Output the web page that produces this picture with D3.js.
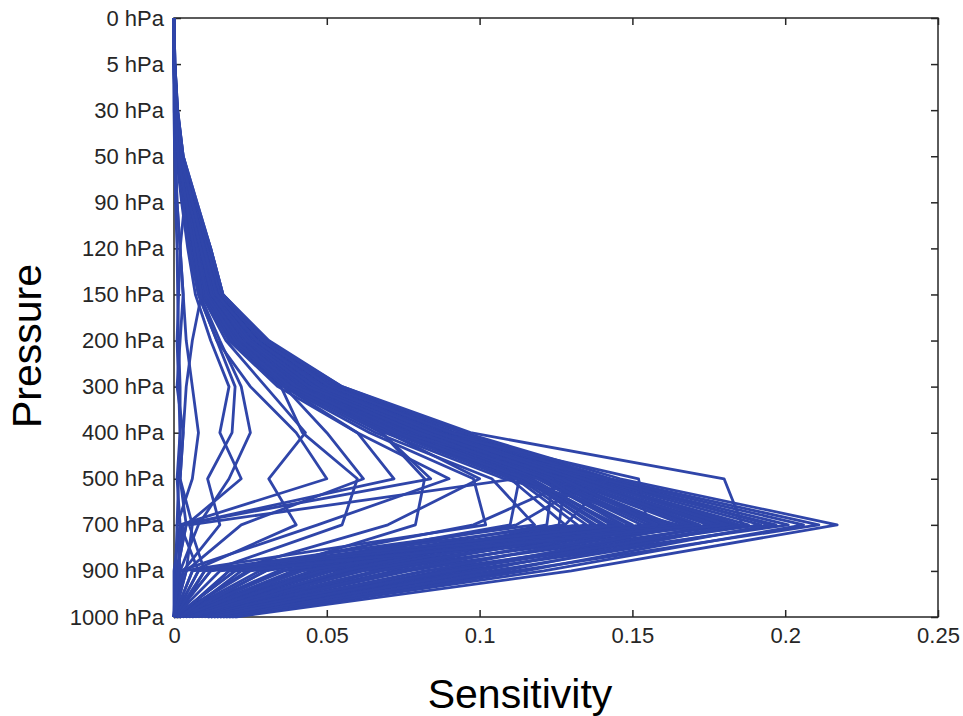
<!DOCTYPE html>
<html>
<head>
<meta charset="utf-8">
<script src="https://cdn.jsdelivr.net/npm/d3@7.9.0/dist/d3.min.js"></script>
<style>
  html, body { margin: 0; padding: 0; background: #fff; }
  svg { display: block; }
  text { font-family: "Liberation Sans", Arial, sans-serif; }
</style>
</head>
<body>
<svg id="chart" width="963" height="716"></svg>
<script>
// pressure levels, top to bottom
const levels = ["0 hPa", "5 hPa", "30 hPa", "50 hPa", "90 hPa", "120 hPa", "150 hPa",
  "200 hPa", "300 hPa", "400 hPa", "500 hPa", "700 hPa", "900 hPa", "1000 hPa"];

const xTicks = [0, 0.05, 0.1, 0.15, 0.2, 0.25];

// sensitivity profiles, one value per level (0 hPa ... 1000 hPa)
// main bundle peaking at 700 hPa
const peakProfiles = [
  [0, .0003, .0012, .003, .0075, .012, .016, .031, .055, .095, .146, .217, .130, .020],
  [0, .0003, .0011, .003, .007, .012, .016, .030, .054, .094, .143, .211, .112, .016],
  [0, .0003, .0011, .0028, .007, .0115, .0155, .030, .053, .092, .141, .206, .121, .018],
  [0, .0002, .0010, .0027, .0068, .011, .015, .029, .052, .091, .139, .201, .094, .011],
  [0, .0002, .0010, .0026, .0066, .011, .015, .029, .051, .090, .137, .197, .104, .013],
  [0, .0002, .0010, .0025, .0064, .0105, .0148, .028, .050, .089, .136, .192, .082, .008],
  [0, .0002, .0009, .0025, .0062, .0102, .0145, .028, .050, .088, .134, .188, .097, .014],
  [0, .0002, .0009, .0024, .006, .010, .014, .027, .049, .087, .133, .183, .072, .005],
  [0, .0002, .0009, .0023, .006, .0098, .0138, .027, .048, .086, .131, .179, .087, .010],
  [0, .0002, .0008, .0022, .0058, .0096, .0135, .026, .047, .085, .130, .175, .062, .003],
  [0, .0002, .0008, .0022, .0056, .0094, .0132, .026, .047, .084, .128, .171, .077, .007],
  [0, .0002, .0008, .0021, .0055, .0092, .013, .025, .046, .083, .127, .167, .052, .002],
  [0, .0002, .0008, .002, .0054, .009, .0128, .025, .045, .082, .126, .163, .068, .006],
  [0, .0001, .0007, .002, .0052, .0088, .0125, .024, .045, .081, .124, .160, .046, 0],
  [0, .0001, .0007, .0019, .0051, .0086, .0122, .024, .044, .080, .123, .157, .058, .004],
  [0, .0001, .0007, .0018, .005, .0085, .012, .023, .043, .079, .121, .153, .040, .001],
  [0, .0001, .0007, .0018, .0048, .0083, .0118, .023, .043, .078, .120, .150, .051, .003],
  [0, .0001, .0006, .0017, .0047, .0082, .0115, .022, .042, .077, .119, .147, .034, 0],
  [0, .0001, .0006, .0016, .0046, .008, .0112, .022, .041, .076, .117, .144, .045, .002],
  [0, .0001, .0006, .0016, .0045, .0078, .011, .021, .041, .075, .116, .141, .028, 0],
  [0, .0001, .0006, .0015, .0044, .0076, .0108, .021, .040, .074, .114, .138, .039, .001],
  [0, .0001, .0005, .0015, .0043, .0075, .0105, .020, .039, .073, .113, .135, .024, 0],
  [0, .0002, .0010, .0026, .0065, .0108, .0150, .029, .051, .091, .140, .195, .115, .019],
  [0, .0002, .0009, .0024, .0061, .0100, .0142, .027, .049, .087, .135, .185, .108, .017],
  [0, .0002, .0009, .0023, .0059, .0097, .0137, .026, .048, .085, .132, .177, .100, .015],
  [0, .0002, .0008, .0022, .0057, .0095, .0133, .026, .047, .084, .129, .169, .092, .012],
  [0, .0001, .0008, .0021, .0054, .0091, .0129, .025, .046, .082, .125, .161, .083, .009],
  [0, .0001, .0007, .0019, .0050, .0086, .0121, .024, .044, .080, .122, .155, .074, .006],
  [0, .0001, .0007, .0018, .0048, .0083, .0117, .023, .043, .078, .119, .149, .066, .004],
  [0, .0001, .0006, .0017, .0046, .0080, .0113, .022, .042, .076, .117, .143, .056, .002],
  [0, .0001, .0006, .0016, .0045, .0077, .0109, .021, .041, .075, .115, .137, .049, .001],
  [0, .0001, .0006, .0015, .0043, .0074, .0104, .020, .039, .073, .112, .132, .036, 0]
];

// one profile with a strong 500 hPa maximum
const outlierProfile = [0, .0003, .0012, .003, .0075, .012, .016, .030, .055, .097, .180, .186, .090, .012];

// profiles with similar values at 500 and 700 hPa
const flatProfiles = [
  [0, .0002, .0009, .0024, .006, .010, .014, .027, .048, .086, .152, .155, .060, .006],
  [0, .0002, .0008, .0022, .0058, .0095, .0135, .026, .047, .084, .128, .126, .048, .004],
  [0, .0002, .0008, .002, .0055, .009, .013, .025, .046, .082, .124, .122, .035, .002],
  [0, .0002, .0008, .002, .0054, .009, .0128, .025, .045, .080, .138, .112, .030, .001],
  [0, .0001, .0007, .0019, .005, .0087, .0124, .024, .044, .078, .113, .110, .025, 0],
  [0, .0001, .0007, .0018, .005, .0085, .012, .023, .043, .077, .142, .128, .055, .005],
  [0, .0001, .0007, .0018, .0048, .0082, .0118, .023, .042, .076, .116, .145, .042, .002],
  [0, .0001, .0006, .0017, .0047, .008, .0114, .022, .041, .074, .132, .098, .020, 0]
];

// weaker, irregular profiles
const midProfiles = [
  [0, .0001, .0006, .0016, .0045, .0075, .011, .020, .038, .068, .082, .079, .030, .002],
  [0, .0001, .0005, .0014, .004, .007, .010, .019, .035, .042, .060, .055, .012, 0],
  [0, .0001, .0005, .0014, .004, .007, .0095, .018, .036, .050, .062, .022, .004, 0],
  [0, 0, .0004, .0012, .0035, .006, .009, .017, .030, .043, .031, .040, .006, 0],
  [0, 0, .0004, .001, .003, .005, .008, .014, .020, .019, .011, .015, .003, 0],
  [0, 0, .0004, .001, .003, .0055, .0085, .015, .022, .025, .018, .008, .002, 0],
  [0, 0, .0003, .0008, .0025, .0045, .007, .012, .018, .015, .022, .004, .001, 0],
  [0, .0001, .0005, .0015, .0042, .0072, .0105, .020, .038, .070, .100, .070, .018, .001]
];

// profiles that collapse near zero at 700 hPa
const lowAt700 = [
  [0, .0001, .0006, .0016, .0045, .0075, .011, .021, .040, .068, .084, .002, .008, 0],
  [0, .0001, .0005, .0014, .004, .007, .010, .019, .036, .060, .072, .003, .001, 0],
  [0, .0001, .0005, .0015, .0042, .0072, .0105, .020, .038, .072, .112, .005, .010, .001],
  [0, 0, .0003, .001, .003, .005, .008, .014, .025, .040, .050, .002, 0, 0],
  [0, 0, .0002, .0005, .001, .002, .003, .004, .006, .008, .006, .001, .002, 0]
];

// profiles that collapse near zero at 900 hPa
const lowAt900 = [
  [0, .0001, .0005, .0014, .004, .007, .010, .019, .036, .064, .098, .102, .003, 0],
  [0, .0001, .0005, .0013, .0038, .0065, .0095, .018, .034, .060, .090, .047, .002, 0],
  [0, .0001, .0006, .0016, .0045, .0076, .011, .021, .039, .071, .110, .128, .012, 0],
  [0, .0001, .0006, .0016, .0046, .0078, .0112, .022, .040, .073, .115, .140, .018, .001],
  [0, .0001, .0005, .0014, .004, .007, .010, .019, .037, .066, .104, .118, .008, 0],
  [0, .0001, .0006, .0016, .0044, .0074, .0106, .020, .038, .069, .108, .165, .020, 0],
  [0, .0002, .0009, .0024, .0061, .0100, .0141, .027, .049, .087, .134, .181, .015, 0],
  [0, .0002, .0008, .0021, .0055, .0092, .0130, .025, .046, .083, .127, .158, .010, 0],
  [0, .0001, .0007, .0019, .0051, .0087, .0123, .024, .044, .080, .122, .146, .006, 0],
  [0, .0002, .0009, .0023, .0060, .0098, .0139, .027, .048, .086, .131, .172, .022, .002]
];

// almost zero everywhere
const nearZero = [
  [0, 0, 0, .0002, .0005, .001, .0012, .0015, .002, .002, .0015, .001, .0005, 0],
  [0, 0, .0001, .0005, .001, .002, .003, .002, .001, .003, .002, .004, .001, 0],
  [0, 0, .0003, .0012, .0035, .002, .0015, .001, .0015, .002, .001, .002, .0015, 0],
  [0, .0001, .0005, .0014, .004, .0065, .009, .006, .004, .003, .002, .006, .004, 0]
];

const profiles = [...peakProfiles, outlierProfile, ...flatProfiles, ...midProfiles,
  ...lowAt700, ...lowAt900, ...nearZero];

const margin = { left: 174, right: 25, top: 18, bottom: 99 };
const width = 963, height = 716;
const lineColor = "#2f45a9";

const svg = d3.select("#chart");

const x = d3.scaleLinear().domain([0, 0.25]).range([margin.left, width - margin.right]);
const y = d3.scalePoint().domain(levels).range([margin.top, height - margin.bottom]);

const fmt = d3.format("~g");

// axes with inward ticks
svg.append("g")
  .attr("transform", `translate(0,${height - margin.bottom})`)
  .call(d3.axisBottom(x).tickValues(xTicks).tickFormat(fmt).tickSizeInner(-7).tickSizeOuter(0).tickPadding(10))
  .call(g => g.select(".domain").remove());

svg.append("g")
  .attr("transform", `translate(0,${margin.top})`)
  .call(d3.axisTop(x).tickValues(xTicks).tickFormat("").tickSizeInner(-7).tickSizeOuter(0))
  .call(g => g.select(".domain").remove());

svg.append("g")
  .attr("transform", `translate(${margin.left},0)`)
  .call(d3.axisLeft(y).tickSizeInner(-7).tickSizeOuter(0).tickPadding(10))
  .call(g => g.select(".domain").remove());

svg.append("g")
  .attr("transform", `translate(${width - margin.right},0)`)
  .call(d3.axisRight(y).tickFormat("").tickSizeInner(-7).tickSizeOuter(0))
  .call(g => g.select(".domain").remove());

svg.selectAll(".tick line").attr("stroke", "#262626").attr("stroke-width", 1.5);
svg.selectAll(".tick text").attr("fill", "#262626").style("font-size", "22px");

svg.append("rect")
  .attr("x", margin.left)
  .attr("y", margin.top)
  .attr("width", width - margin.right - margin.left)
  .attr("height", height - margin.bottom - margin.top)
  .attr("fill", "none")
  .attr("stroke", "#262626")
  .attr("stroke-width", 1.5);

const line = d3.line()
  .x(d => x(d))
  .y((d, i) => y(levels[i]));

svg.append("g")
  .selectAll("path")
  .data(profiles)
  .join("path")
  .attr("d", line)
  .attr("fill", "none")
  .attr("stroke", lineColor)
  .attr("stroke-width", 2.8)
  .attr("stroke-linejoin", "round");

svg.append("text")
  .attr("x", 520)
  .attr("y", 708)
  .attr("text-anchor", "middle")
  .style("font-size", "41px")
  .text("Sensitivity");

svg.append("text")
  .attr("transform", "translate(41,346) rotate(-90)")
  .attr("text-anchor", "middle")
  .style("font-size", "41px")
  .text("Pressure");
</script>
</body>
</html>
